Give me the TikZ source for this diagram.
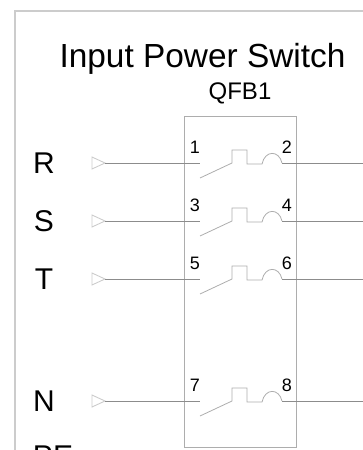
\documentclass[tikz,border=0pt]{standalone}
\usepackage{fontspec}
\setmainfont{Liberation Sans}
\usepackage{tikz}
\usetikzlibrary{positioning}

\begin{document}
\begin{tikzpicture}[x=1pt,y=1pt,
  wire/.style={draw=black!45,line width=0.8pt},
  contact/.style={draw=black!32,line width=0.8pt},
  phase/.style={font=\fontsize{30}{32}\selectfont,text=black,inner sep=0pt},
  pin/.style={font=\fontsize{18}{20}\selectfont,text=black,inner sep=0pt},
  plug/.style={draw=black!20,line width=0.9pt}]
\useasboundingbox (0,-450) rectangle (363,0);

\draw[draw=black!20,line width=1.3pt] (363,-11) -- (15,-11) -- (15,-450);
\node[font=\fontsize{33.4}{36}\selectfont,text=black,inner sep=0pt] (Title) at (202.5,-59) {Input Power Switch};
\node[font=\fontsize{24}{26}\selectfont,text=black,inner sep=0pt] (QFB) at (240,-93) {QFB1};
\draw[draw=black!32,line width=0.9pt] (184.5,-116.5) rectangle (296,-447);

\foreach \y/\name/\pinL/\pinR in {163/R/1/2,221/S/3/4,279/T/5/6,401/N/7/8}{
  \node[phase] (\name) at (44,-\y) {\name};
  \node[pin] (Pin\pinL) at (195,-\y+16) {\pinL};
  \node[pin] (Pin\pinR) at (287,-\y+16) {\pinR};
  \coordinate (\name Plug) at (105,-\y);
  \coordinate (\name In) at (200,-\y);
  \coordinate (\name Out) at (282,-\y);
  \coordinate (\name End) at (363,-\y);
  \draw[plug] (\name Plug) -- (92,-\y+6) -- (92,-\y-6) -- cycle;
  \draw[wire] (\name Plug) -- (\name In);
  \draw[wire] (\name Out) -- (\name End);
  \draw[contact] (200,-\y-15) -- (232,-\y) -- (232,-\y+13) -- (247,-\y+13)
    -- (247,-\y-1) -- (262,-\y-1) .. controls (265,-\y+13) and (279,-\y+13) .. (\name Out);
}

\node[phase,anchor=north] (PE) at (53,-446) {PE};
\end{tikzpicture}
\end{document}
